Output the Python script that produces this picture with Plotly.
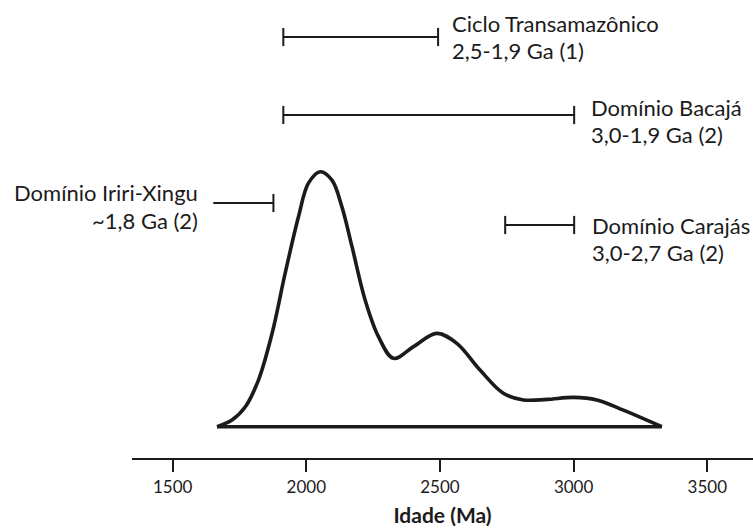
import plotly.graph_objects as go

# ---- data ----
age_ma = [1666, 1722, 1772, 1821, 1872, 1921, 1971, 2008, 2052, 2096, 2133, 2171,
          2220, 2270, 2326, 2401, 2488, 2563, 2650, 2737, 2812, 2900, 2999, 3087,
          3186, 3330]
density = [0.0, 0.026, 0.078, 0.183, 0.366, 0.602, 0.824, 0.955, 1.0, 0.967, 0.863,
           0.706, 0.497, 0.353, 0.268, 0.314, 0.366, 0.327, 0.222, 0.131, 0.105,
           0.107, 0.115, 0.105, 0.065, 0.0]

range_names = ["Ciclo Transamazônico", "Domínio Bacajá", "Domínio Iriri-Xingu", "Domínio Carajás"]
range_labels = ["2,5-1,9 Ga (1)", "3,0-1,9 Ga (2)", "~1,8 Ga (2)", "3,0-2,7 Ga (2)"]
range_start = [1914, 1914, 1652, 2744]
range_end = [2493, 3002, 1877, 3002]

tick_vals = [1500, 2000, 2500, 3000, 3500]
tick_text = ["1500", "2000", "2500", "3000", "3500"]

# ---- layout helpers (pixel -> data) ----
W, H = 753, 528
ML, MR, MT, MB = 132, 0, 0, 70
XR = [1348, 3671]
Y0PX, PXPERUNIT = 426.7, 255.0
YR = [-(H - MB - Y0PX) / PXPERUNIT, Y0PX / PXPERUNIT]

def ypx(p):
    return (Y0PX - p) / PXPERUNIT

def px_to_x(p):
    return XR[0] + (p - ML) * (XR[1] - XR[0]) / (W - ML - MR)

INK = "#1c1a1b"
FONT = "Lato"

fig = go.Figure()

# density curve
fig.add_trace(go.Scatter(x=age_ma, y=density, mode="lines",
                         line=dict(color=INK, width=3.6, shape="spline", smoothing=1.0),
                         hoverinfo="skip", showlegend=False))
# baseline closing the curve
fig.add_trace(go.Scatter(x=[age_ma[0], age_ma[-1]], y=[0, 0], mode="lines",
                         line=dict(color=INK, width=3.6), hoverinfo="skip", showlegend=False))

# range bars
bar_y = [ypx(37), ypx(115), ypx(203), ypx(225)]
caps_left = [True, True, False, True]
for i in range(len(range_names)):
    fig.add_trace(go.Scatter(x=[range_start[i], range_end[i]], y=[bar_y[i], bar_y[i]],
                             mode="lines", line=dict(color=INK, width=2),
                             hoverinfo="skip", showlegend=False))
    cx = [range_end[i]] + ([range_start[i]] if caps_left[i] else [])
    fig.add_trace(go.Scatter(x=cx, y=[bar_y[i]] * len(cx), mode="markers",
                             marker=dict(symbol="line-ns", size=13,
                                         line=dict(color=INK, width=2)),
                             hoverinfo="skip", showlegend=False))

label_pos = [(px_to_x(452), "left", 23, 50),
             (px_to_x(591), "left", 107, 134),
             (px_to_x(198), "right", 192, 220),
             (px_to_x(592), "left", 225, 252)]
for i, (lx, anc, y1, y2) in enumerate(label_pos):
    for txt, yy in ((range_names[i], y1), (range_labels[i], y2)):
        fig.add_annotation(x=lx, y=ypx(yy), xref="x", yref="y", text=txt,
                           showarrow=False, xanchor=anc, yanchor="middle",
                           xshift=-2 if anc == "left" else 2,
                           font=dict(family=FONT, size=22, color=INK))

fig.update_layout(
    width=W, height=H,
    margin=dict(l=ML, r=MR, t=MT, b=MB),
    paper_bgcolor="white", plot_bgcolor="white",
    showlegend=False,
    xaxis=dict(range=XR, tickvals=tick_vals, ticktext=tick_text,
               showgrid=False, zeroline=False, showline=True, linecolor=INK, linewidth=1.5,
               ticks="outside", ticklen=12, tickwidth=1.5, tickcolor=INK,
               ticklabelstandoff=1,
               tickfont=dict(family=FONT, size=17, color=INK),
               title=dict(text="<b>Idade (Ma)</b>", standoff=12,
                          font=dict(family=FONT, size=21, color=INK))),
    yaxis=dict(range=YR, visible=False, showgrid=False, zeroline=False),
)

fig.write_html("out.html")
